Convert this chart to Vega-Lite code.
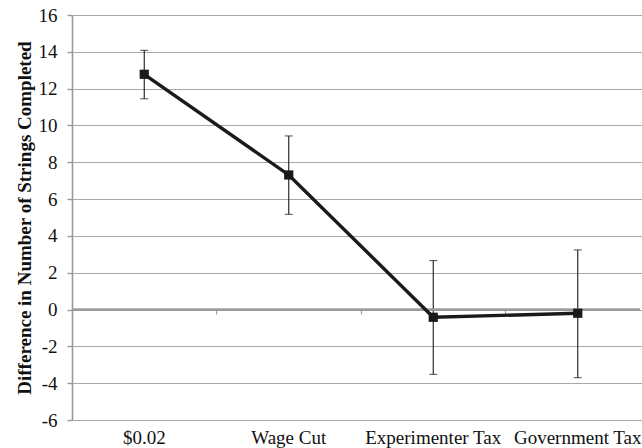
{
  "$schema": "https://vega.github.io/schema/vega-lite/v6.json",
  "autosize": "none",
  "width": 568,
  "height": 405,
  "padding": {"left": 72, "top": 15, "right": 2, "bottom": 28},
  "background": "white",
  "config": {
    "view": {"stroke": null},
    "font": "Liberation Serif",
    "axis": {"labelFont": "Liberation Serif", "titleFont": "Liberation Serif"}
  },
  "data": {
    "values": [
      {"condition": "$0.02", "diff": 12.78, "lo": 11.45, "hi": 14.08},
      {"condition": "Wage Cut", "diff": 7.31, "lo": 5.17, "hi": 9.43},
      {"condition": "Experimenter Tax", "diff": -0.42, "lo": -3.52, "hi": 2.66},
      {"condition": "Government Tax", "diff": -0.2, "lo": -3.7, "hi": 3.24}
    ]
  },
  "resolve": {"axis": {"x": "independent", "y": "independent"}},
  "layer": [
    {
      "mark": {"type": "rule", "color": "#1a1a1a", "strokeWidth": 1.1},
      "encoding": {
        "x": {
          "field": "condition", "type": "nominal", "sort": null,
          "scale": {"type": "band", "range": [0, 578], "paddingInner": 0, "paddingOuter": 0},
          "axis": {
            "orient": "bottom", "title": null, "domain": false, "ticks": false,
            "labelFont": "Liberation Serif", "labelFontSize": 19, "labelColor": "#111",
            "labelPadding": 8, "labelAngle": 0, "grid": false
          }
        },
        "y": {
          "field": "lo", "type": "quantitative",
          "scale": {"domain": [-6, 16], "nice": false, "zero": false},
          "axis": {
            "orient": "left",
            "title": "Difference in Number of Strings Completed",
            "titleFont": "Liberation Serif", "titleFontSize": 19, "titleFontWeight": "bold",
            "titleColor": "#111", "titlePadding": 4,
            "values": [-6, -4, -2, 0, 2, 4, 6, 8, 10, 12, 14, 16],
            "labelExpr": "datum.value < 0 ? '-' + abs(datum.value) : '' + datum.value",
            "labelOverlap": false,
            "labelFont": "Liberation Serif", "labelFontSize": 19, "labelColor": "#111",
            "labelPadding": 10,
            "domain": true, "domainColor": "#9a9a9a", "domainWidth": 1.6,
            "ticks": true, "tickColor": "#9a9a9a", "tickSize": 5, "tickWidth": 1.4,
            "grid": true, "gridColor": "#a8a8a8", "gridWidth": 1.2
          }
        },
        "y2": {"field": "hi"}
      }
    },
    {
      "mark": {"type": "rule", "color": "#9a9a9a", "strokeWidth": 1.7},
      "encoding": {"y": {"datum": 0, "type": "quantitative", "axis": null}}
    },
    {
      "mark": {"type": "tick", "color": "#1a1a1a", "size": 8, "thickness": 1.1},
      "encoding": {
        "x": {"field": "condition", "type": "nominal", "sort": null,
          "axis": {
            "orient": "bottom", "offset": -110, "labels": false, "title": null,
            "domain": false, "grid": false, "ticks": true, "bandPosition": 0,
            "tickColor": "#9a9a9a", "tickSize": 4, "tickWidth": 1.2
          }
        },
        "y": {"field": "lo", "type": "quantitative", "axis": null}
      }
    },
    {
      "mark": {"type": "tick", "color": "#1a1a1a", "size": 8, "thickness": 1.1},
      "encoding": {
        "x": {"field": "condition", "type": "nominal", "sort": null, "axis": null},
        "y": {"field": "hi", "type": "quantitative", "axis": null}
      }
    },
    {
      "mark": {"type": "line", "color": "#1a1a1a", "strokeWidth": 3.4},
      "encoding": {
        "x": {"field": "condition", "type": "nominal", "sort": null, "axis": null},
        "y": {"field": "diff", "type": "quantitative", "axis": null}
      }
    },
    {
      "mark": {"type": "point", "shape": "square", "filled": true, "color": "#1a1a1a", "size": 85, "opacity": 1},
      "encoding": {
        "x": {"field": "condition", "type": "nominal", "sort": null, "axis": null},
        "y": {"field": "diff", "type": "quantitative", "axis": null}
      }
    }
  ]
}
